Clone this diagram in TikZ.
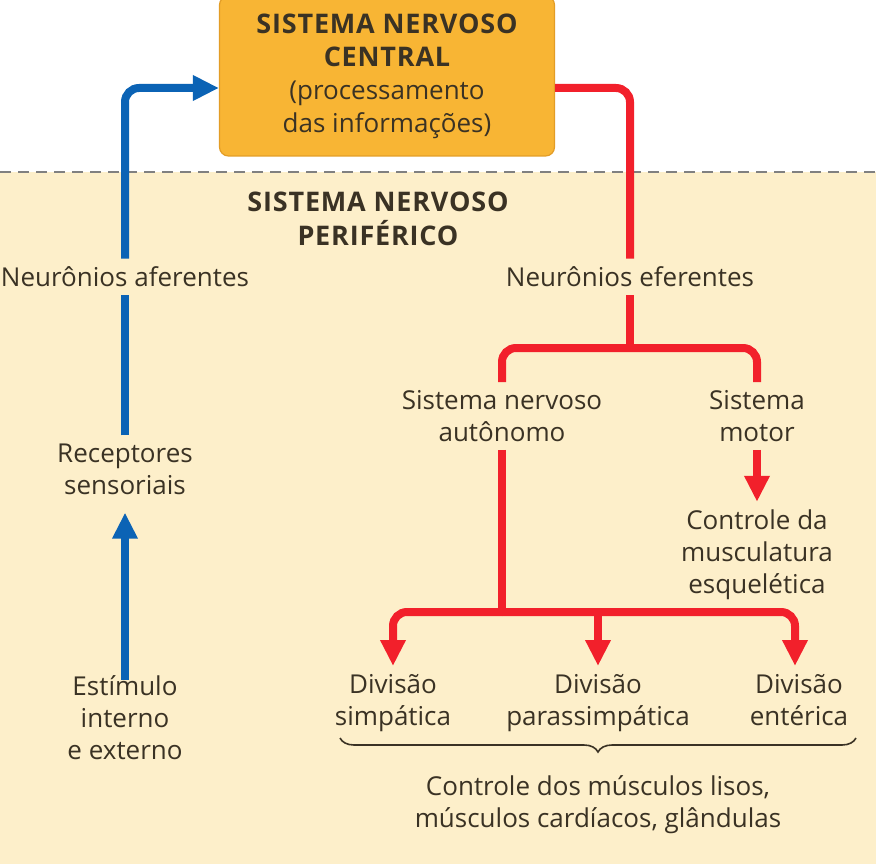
\documentclass[tikz,border=0pt]{standalone}
\usepackage{fontspec}
\setmainfont{Open Sans}
\newfontfamily\titlefont{Open Sans}[LetterSpace=3]
\usepackage{xcolor}
\usetikzlibrary{arrows.meta,positioning,calc,decorations.pathreplacing}

\definecolor{sncfill}{HTML}{F8B534}
\definecolor{sncdraw}{HTML}{E39D26}
\definecolor{snpback}{HTML}{FDEFCA}
\definecolor{afblue}{HTML}{0B63B5}
\definecolor{efred}{HTML}{F2202B}
\definecolor{txt}{HTML}{3A3224}

\newcommand{\headfont}{\fontsize{27}{33}\selectfont\titlefont\bfseries}

\tikzset{
  label/.style={font=\fontsize{26}{32}\selectfont, text=txt, align=center, inner xsep=0pt, inner ysep=8pt},
  title/.style={label, font=\fontsize{27}{34}\selectfont\titlefont\bfseries},
  sncbox/.style={draw=sncdraw, line width=1.2pt, fill=sncfill, rounded corners=9pt,
                 minimum width=335pt, minimum height=160pt, font=\fontsize{26}{33}\selectfont, text=txt, align=center},
  afferent/.style={draw=afblue, line width=8pt, rounded corners=14pt},
  efferent/.style={draw=efred, line width=8pt, rounded corners=14pt},
  tip/.style={-{Triangle[width=24pt, length=26pt]}},
  brace/.style={decorate, decoration={brace, mirror, amplitude=14pt}, draw=txt, line width=1.6pt}
}

\begin{document}
\begin{tikzpicture}[x=1pt, y=1pt]

\useasboundingbox (0,0) rectangle (876,-864);
\fill[white]   (0,0)    rectangle (876,-172);
\fill[snpback] (0,-172) rectangle (876,-864);
\draw[gray, line width=1.6pt, dash pattern=on 11pt off 7pt] (0,-172) -- (876,-172);

% central
\node[sncbox] (SNC) at (387,-76) {{\headfont SISTEMA NERVOSO}\\{\headfont CENTRAL}\\(processamento\\das informações)};
\node[title]  (SNP) at (378,-219) {SISTEMA NERVOSO\\PERIFÉRICO};

% afferent column
\node[label] (aferentes)  at (125,-277)   {Neurônios aferentes};
\node[label] (receptores) at (125,-469)   {Receptores\\sensoriais};
\node[label] (estimulo)   at (125,-718)   {Estímulo\\interno\\e externo};

% efferent column
\node[label] (eferentes)   at (630,-277)  {Neurônios eferentes};
\node[label] (autonomo)    at (502,-416)  {Sistema nervoso\\autônomo};
\node[label] (motor)       at (757,-416)  {Sistema\\motor};
\node[label] (esqueletica) at (757,-555)  {Controle da\\musculatura\\esquelética};

\node[label, anchor=north] (simpatica) at (393,-666) {Divisão\\simpática};
\node[label, anchor=north] (parass)    at (598,-666) {Divisão\\parassimpática};
\node[label, anchor=north] (enterica)  at (799,-666) {Divisão\\entérica};
\node[label] (lisos)      at (598,-805)   {Controle dos músculos lisos,\\músculos cardíacos, glândulas};

\coordinate (split1) at (630,-348);
\coordinate (split2) at (502,-612);

% afferent path
\draw[afferent, tip] ([yshift=-12pt]estimulo.north) -- ([yshift=-10pt]receptores.south);
\draw[afferent]      (receptores.north) -- (aferentes.south);
\draw[afferent, tip] (aferentes.north) |- ([yshift=-12pt]SNC.west);

% efferent path
\draw[efferent] ([yshift=-12pt]SNC.east) -| (eferentes.north);
\draw[efferent] (eferentes.south) -- (split1);
\draw[efferent] (autonomo.north) |- (split1) -| (motor.north);
\draw[efferent, tip] (motor.south) -- (esqueletica.north);
\draw[efferent] (autonomo.south) -- (split2);
\draw[efferent, tip] (split2) -| (simpatica.north);
\draw[efferent, tip] (split2) -| ([xshift=-4pt]enterica.north);
\draw[efferent, tip] (parass.north |- split2) -- (parass.north);

\draw[brace] (340,-738) -- (856,-738);

\end{tikzpicture}
\end{document}
